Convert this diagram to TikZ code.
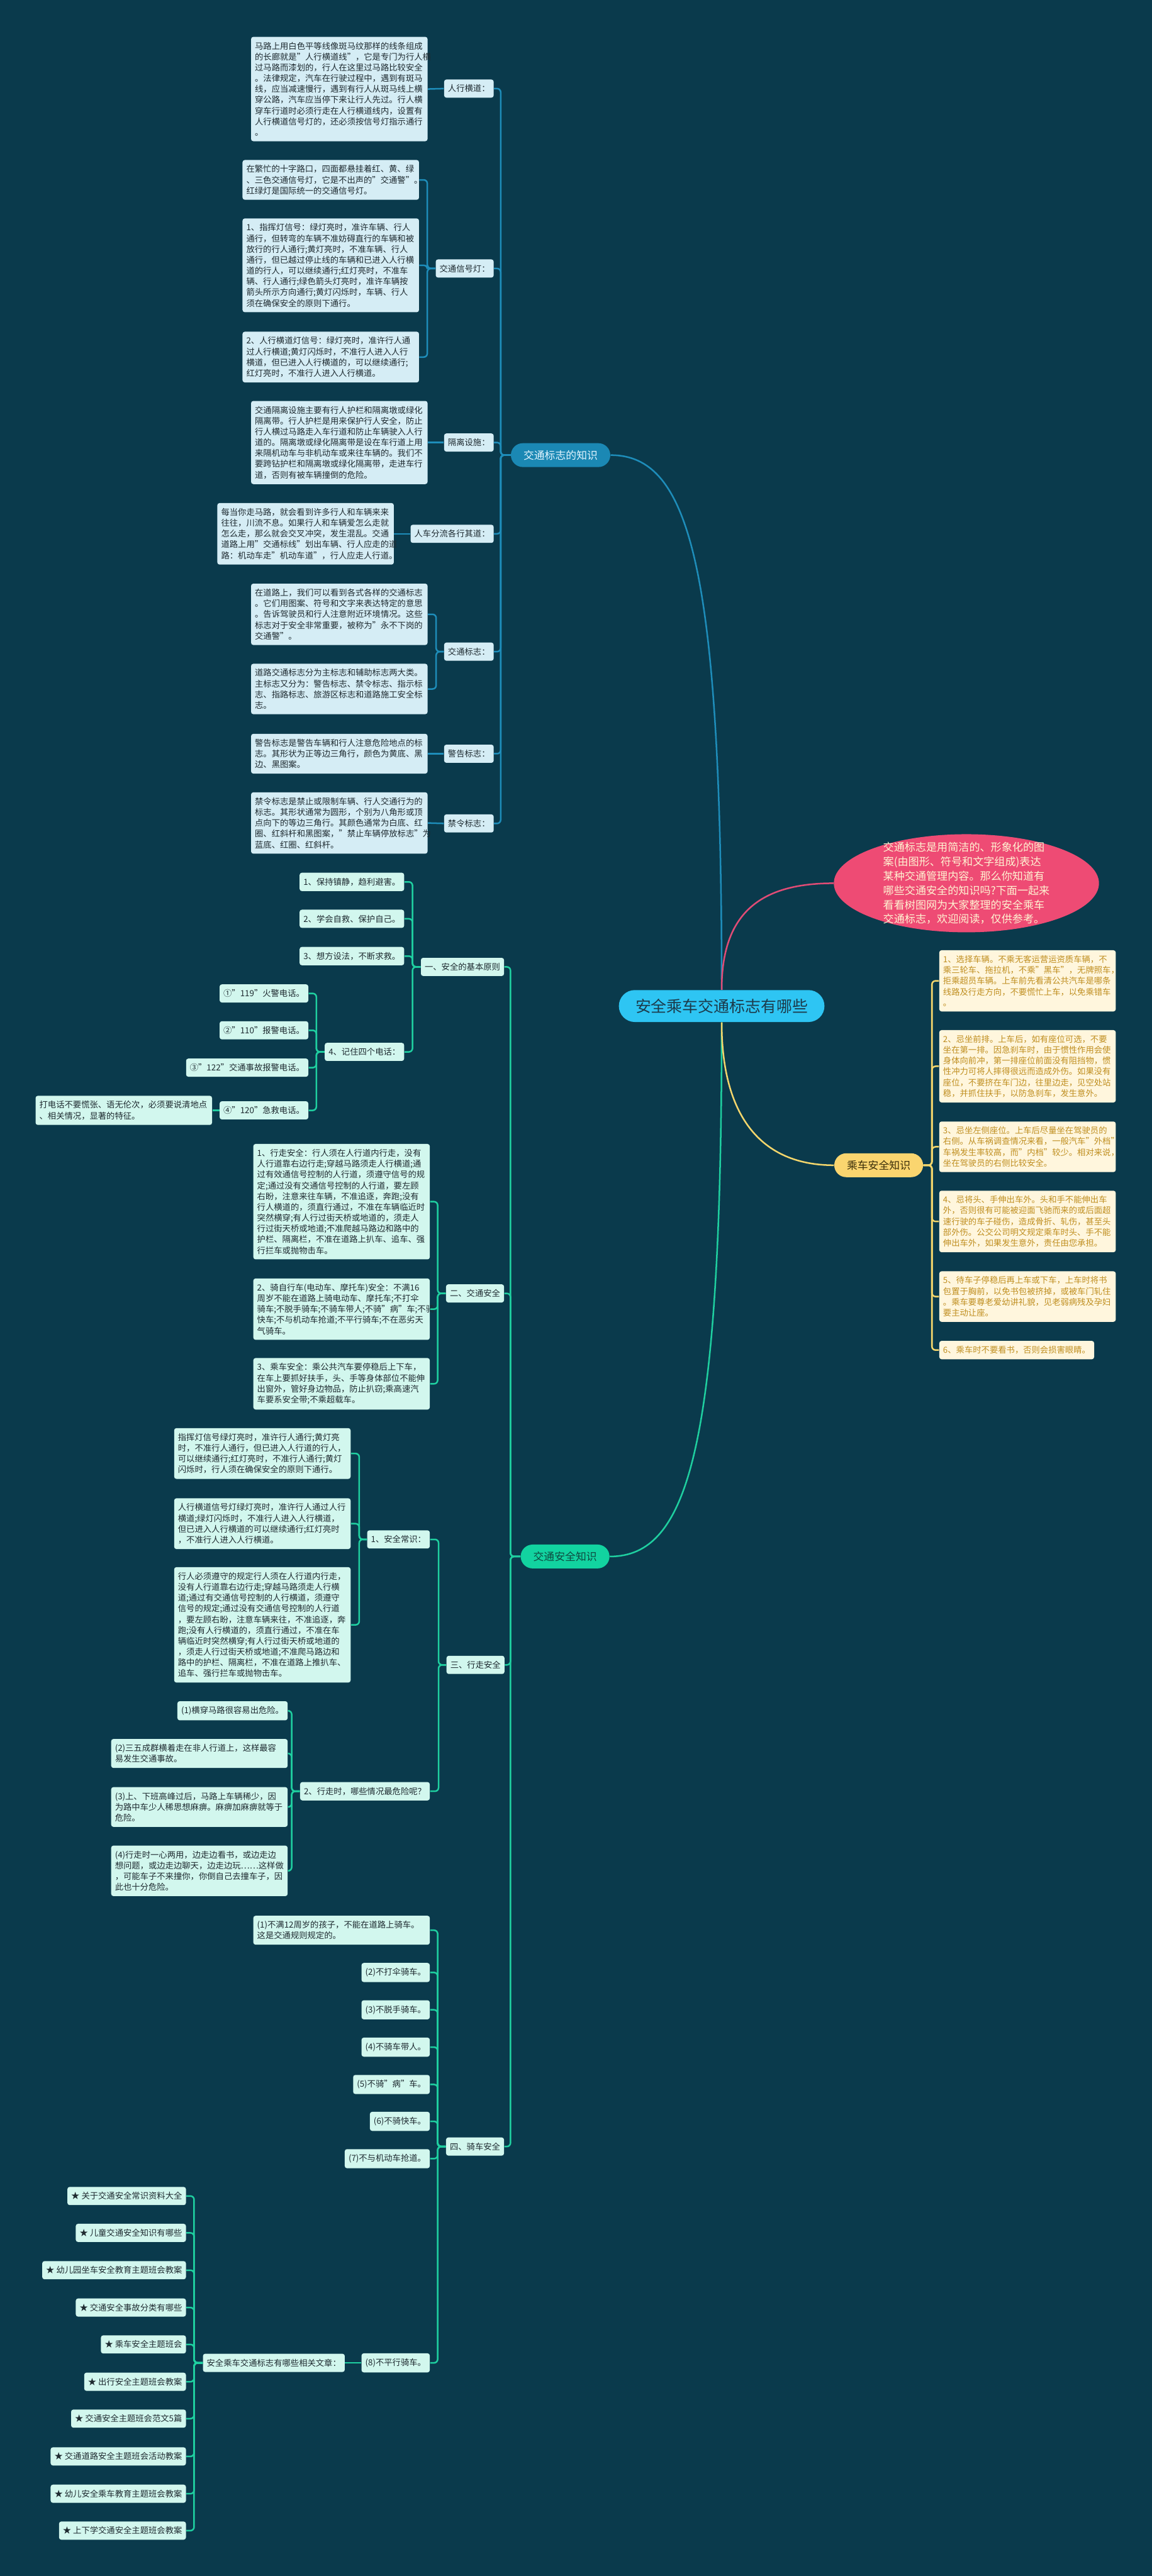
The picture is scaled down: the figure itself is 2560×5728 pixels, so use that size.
\documentclass[tikz,border=0pt]{standalone}
\usepackage{fontspec}
\setmainfont{Noto Sans CJK SC}
\usetikzlibrary{shapes.geometric}

\definecolor{bgdark}{HTML}{0A3A4C}
\definecolor{rootblue}{HTML}{2EC5F3}
\definecolor{rootink}{HTML}{1C3A4A}
\definecolor{signblue}{HTML}{1B88B4}
\definecolor{signtext}{HTML}{E2F5FF}
\definecolor{paleblue}{HTML}{D5EDF5}
\definecolor{blueline}{HTML}{1E8DBA}
\definecolor{safegreen}{HTML}{12D3A0}
\definecolor{safetext}{HTML}{0E4A40}
\definecolor{mint}{HTML}{D2F7EE}
\definecolor{greenline}{HTML}{1FCFA0}
\definecolor{rideyellow}{HTML}{FAD56F}
\definecolor{rideink}{HTML}{3A2E0A}
\definecolor{cream}{HTML}{FFF6DD}
\definecolor{goldtext}{HTML}{BF8E1F}
\definecolor{yellowline}{HTML}{F4D66C}
\definecolor{rose}{HTML}{EE4B74}
\definecolor{roseline}{HTML}{E14C76}
\definecolor{introtext}{HTML}{FFF4D2}
\definecolor{ink}{HTML}{1E2A30}

\newcommand{\leaffont}{\fontsize{5.3}{6.83}\selectfont}
\newcommand{\branchfont}{\fontsize{6.7}{8}\selectfont}
\newcommand{\rootfont}{\fontsize{9.9}{12}\selectfont}
\newcommand{\introfont}{\fontsize{6.8}{9.1}\selectfont}

\tikzset{
  leaf/.style={rounded corners=0.05cm, align=left, font=\leaffont, text=ink,
    inner xsep=0.085cm, inner ysep=0.115cm},
  wide/.style={text width=3.75cm},
  bleaf/.style={leaf, fill=paleblue, anchor=east},
  gleaf/.style={leaf, fill=mint, anchor=east},
  yleaf/.style={leaf, fill=cream, text=goldtext, anchor=west, wide},
  branch/.style={rounded corners=0.265cm, minimum height=0.53cm, inner xsep=0.28cm,
    inner ysep=0pt, font=\branchfont},
  lelbow/.style={to path={-- ++(-#1,0) |- (\tikztotarget)}},
  relbow/.style={to path={-- ++(#1,0) |- (\tikztotarget)}},
  bline/.style={draw=blueline, line width=0.035cm, rounded corners=0.08cm},
  gline/.style={draw=greenline, line width=0.035cm, rounded corners=0.08cm},
  yline/.style={draw=yellowline, line width=0.035cm, rounded corners=0.08cm},
}

\begin{document}
\begin{tikzpicture}[x=0.01cm, y=-0.01cm]
\useasboundingbox (0,0) rectangle (2560,5728);
\fill[bgdark] (0,0) rectangle (2560,5728);

% centre and main branches
\node[rounded corners=0.355cm, fill=rootblue, text=rootink, font=\rootfont, minimum height=0.71cm,
  inner xsep=0.37cm, inner ysep=0pt] (root) at (1604,2237) {安全乘车交通标志有哪些};

\node[ellipse, fill=rose, minimum width=5.89cm, minimum height=2.18cm, inner sep=0pt] (intro) at (2148,1964) {};
\node[font=\introfont, text=introtext, align=left] (introtxt) at (intro.center) {交通标志是用简洁的、形象化的图\\
案(由图形、符号和文字组成)表达\\
某种交通管理内容。那么你知道有\\
哪些交通安全的知识吗?下面一起来\\
看看树图网为大家整理的安全乘车\\
交通标志，欢迎阅读，仅供参考。};

\node[branch, fill=signblue, text=signtext] (signs) at (1246,1012) {交通标志的知识};
\node[branch, fill=safegreen, text=safetext] (safety) at (1256,3461) {交通安全知识};
\node[branch, fill=rideyellow, text=rideink] (ride) at (1953,2591) {乘车安全知识};

\draw[bline] (root.north) .. controls (1604,1250) and (1530,1012) .. (signs.east);
\draw[gline] (root.south) .. controls (1604,3220) and (1530,3461) .. (safety.east);
\draw[draw=roseline, line width=0.035cm] (root.north) .. controls (1604,2030) and (1690,1964) .. (intro.west);
\draw[yline] (root.south) .. controls (1604,2480) and (1690,2591) .. (ride.west);

% traffic signs
\node[bleaf] (b1) at (1098,197) {人行横道：};
\node[bleaf, wide] (b1t) at (951,198) {马路上用白色平等线像斑马纹那样的线条组成\\
的长廊就是"人行横道线"，它是专门为行人横\\
过马路而漆划的，行人在这里过马路比较安全\\
。法律规定，汽车在行驶过程中，遇到有斑马\\
线，应当减速慢行，遇到有行人从斑马线上横\\
穿公路，汽车应当停下来让行人先过。行人横\\
穿车行道时必须行走在人行横道线内，设置有\\
人行横道信号灯的，还必须按信号灯指示通行\\
。};
\node[bleaf] (b2) at (1098,597) {交通信号灯：};
\node[bleaf, wide] (b2a) at (932,400) {在繁忙的十字路口，四面都悬挂着红、黄、绿\\
、三色交通信号灯，它是不出声的"交通警"。\\
红绿灯是国际统一的交通信号灯。};
\node[bleaf, wide] (b2b) at (932,590) {1、指挥灯信号：绿灯亮时，准许车辆、行人\\
通行，但转弯的车辆不准妨碍直行的车辆和被\\
放行的行人通行;黄灯亮时，不准车辆、行人\\
通行，但已越过停止线的车辆和已进入人行横\\
道的行人，可以继续通行;红灯亮时，不准车\\
辆、行人通行;绿色箭头灯亮时，准许车辆按\\
箭头所示方向通行;黄灯闪烁时，车辆、行人\\
须在确保安全的原则下通行。};
\node[bleaf, wide] (b2c) at (932,794) {2、人行横道灯信号：绿灯亮时，准许行人通\\
过人行横道;黄灯闪烁时，不准行人进入人行\\
横道，但已进入人行横道的，可以继续通行;\\
红灯亮时，不准行人进入人行横道。};
\node[bleaf] (b3) at (1098,984) {隔离设施：};
\node[bleaf, wide] (b3t) at (951,984) {交通隔离设施主要有行人护栏和隔离墩或绿化\\
隔离带。行人护栏是用来保护行人安全，防止\\
行人横过马路走入车行道和防止车辆驶入人行\\
道的。隔离墩或绿化隔离带是设在车行道上用\\
来隔机动车与非机动车或来往车辆的。我们不\\
要跨钻护栏和隔离墩或绿化隔离带，走进车行\\
道，否则有被车辆撞倒的危险。};
\node[bleaf] (b4) at (1098,1187) {人车分流各行其道：};
\node[bleaf, wide] (b4t) at (876,1187) {每当你走马路，就会看到许多行人和车辆来来\\
往往，川流不息。如果行人和车辆爱怎么走就\\
怎么走，那么就会交叉冲突，发生混乱。交通\\
道路上用"交通标线"划出车辆、行人应走的道\\
路：机动车走"机动车道"，行人应走人行道。};
\node[bleaf] (b5) at (1098,1449) {交通标志：};
\node[bleaf, wide] (b5a) at (951,1366) {在道路上，我们可以看到各式各样的交通标志\\
。它们用图案、符号和文字来表达特定的意思\\
。告诉驾驶员和行人注意附近环境情况。这些\\
标志对于安全非常重要，被称为"永不下岗的\\
交通警"。};
\node[bleaf, wide] (b5b) at (951,1532) {道路交通标志分为主标志和辅助标志两大类。\\
主标志又分为：警告标志、禁令标志、指示标\\
志、指路标志、旅游区标志和道路施工安全标\\
志。};
\node[bleaf] (b6) at (1098,1676) {警告标志：};
\node[bleaf, wide] (b6t) at (951,1676) {警告标志是警告车辆和行人注意危险地点的标\\
志。其形状为正等边三角行，颜色为黄底、黑\\
边、黑图案。};
\node[bleaf] (b7) at (1098,1831) {禁令标志：};
\node[bleaf, wide] (b7t) at (951,1830) {禁令标志是禁止或限制车辆、行人交通行为的\\
标志。其形状通常为圆形，个别为八角形或顶\\
点向下的等边三角行。其颜色通常为白底、红\\
圈、红斜杆和黑图案，"禁止车辆停放标志"为\\
蓝底、红圈、红斜杆。};

\foreach \n in {b1,b2,b3,b4,b5,b6,b7} \draw[bline] (signs.west) to[lelbow=22] (\n.east);
\foreach \n in {b2a,b2b,b2c} \draw[bline] (b2.west) to[lelbow=18] (\n.east);
\foreach \n in {b5a,b5b} \draw[bline] (b5.west) to[lelbow=17] (\n.east);
\draw[bline] (b1.west) -- (b1t.east);
\draw[bline] (b3.west) -- (b3t.east);
\draw[bline] (b4.west) -- (b4t.east);
\draw[bline] (b6.west) -- (b6t.east);
\draw[bline] (b7.west) -- (b7t.east);

% riding safety
\node[yleaf] (y1) at (2087,2181) {1、选择车辆。不乘无客运营运资质车辆，不\\
乘三轮车、拖拉机，不乘"黑车"，无牌照车，\\
拒乘超员车辆。上车前先看清公共汽车是哪条\\
线路及行走方向，不要慌忙上车，以免乘错车\\
。};
\node[yleaf] (y2) at (2087,2371) {2、忌坐前排。上车后，如有座位可选，不要\\
坐在第一排。因急刹车时，由于惯性作用会使\\
身体向前冲，第一排座位前面没有阻挡物，惯\\
性冲力可将人摔得很远而造成外伤。如果没有\\
座位，不要挤在车门边，往里边走，见空处站\\
稳，并抓住扶手，以防急刹车，发生意外。};
\node[yleaf] (y3) at (2087,2550) {3、忌坐左侧座位。上车后尽量坐在驾驶员的\\
右侧。从车祸调查情况来看，一般汽车"外档"\\
车祸发生率较高，而"内档"较少。相对来说，\\
坐在驾驶员的右侧比较安全。};
\node[yleaf] (y4) at (2087,2716) {4、忌将头、手伸出车外。头和手不能伸出车\\
外，否则很有可能被迎面飞驰而来的或后面超\\
速行驶的车子碰伤，造成骨折、轧伤，甚至头\\
部外伤。公交公司明文规定乘车时头、手不能\\
伸出车外，如果发生意外，责任由您承担。};
\node[yleaf] (y5) at (2087,2883) {5、待车子停稳后再上车或下车，上车时将书\\
包置于胸前，以免书包被挤掉，或被车门轧住\\
。乘车要尊老爱幼讲礼貌，见老弱病残及孕妇\\
要主动让座。};
\node[yleaf, text width=] (y6) at (2087,3002) {6、乘车时不要看书，否则会损害眼睛。};

\foreach \n in {y1,y2,y3,y4,y5,y6} \draw[yline] (ride.east) to[relbow=19] (\n.west);

% traffic safety
\node[gleaf] (g1) at (1121,2150) {一、安全的基本原则};
\node[gleaf] (g1a) at (899,1961) {1、保持镇静，趋利避害。};
\node[gleaf] (g1b) at (899,2043) {2、学会自救、保护自己。};
\node[gleaf] (g1c) at (899,2126) {3、想方设法，不断求救。};
\node[gleaf] (g1d) at (899,2339) {4、记住四个电话：};
\node[gleaf] (g1d1) at (686,2209) {①"119"火警电话。};
\node[gleaf] (g1d2) at (686,2291) {②"110"报警电话。};
\node[gleaf] (g1d3) at (686,2374) {③"122"交通事故报警电话。};
\node[gleaf] (g1d4) at (686,2469) {④"120"急救电话。};
\node[gleaf, wide] (g1d4t) at (472,2469) {打电话不要慌张、语无伦次，必须要说清地点\\
、相关情况，显著的特征。};

\node[gleaf] (g2) at (1121,2876) {二、交通安全};
\node[gleaf, wide] (g2a) at (956,2672) {1、行走安全：行人须在人行道内行走，没有\\
人行道靠右边行走;穿越马路须走人行横道;通\\
过有效通信号控制的人行道，须遵守信号的规\\
定;通过没有交通信号控制的人行道，要左顾\\
右盼，注意来往车辆，不准追逐，奔跑;没有\\
行人横道的，须直行通过，不准在车辆临近时\\
突然横穿;有人行过街天桥或地道的，须走人\\
行过街天桥或地道;不准爬越马路边和路中的\\
护栏、隔离栏，不准在道路上扒车、追车、强\\
行拦车或抛物击车。};
\node[gleaf, wide] (g2b) at (956,2911) {2、骑自行车(电动车、摩托车)安全：不满16\\
周岁不能在道路上骑电动车、摩托车;不打伞\\
骑车;不脱手骑车;不骑车带人;不骑"病"车;不骑\\
快车;不与机动车抢道;不平行骑车;不在恶劣天\\
气骑车。};
\node[gleaf, wide] (g2c) at (956,3077) {3、乘车安全：乘公共汽车要停稳后上下车，\\
在车上要抓好扶手，头、手等身体部位不能伸\\
出窗外，管好身边物品，防止扒窃;乘高速汽\\
车要系安全带;不乘超载车。};

\node[gleaf] (g3) at (1122,3702) {三、行走安全};
\node[gleaf] (g3a) at (956,3423) {1、安全常识：};
\node[gleaf, wide] (g3a1) at (780,3232) {指挥灯信号绿灯亮时，准许行人通行;黄灯亮\\
时，不准行人通行，但已进入人行道的行人，\\
可以继续通行;红灯亮时，不准行人通行;黄灯\\
闪烁时，行人须在确保安全的原则下通行。};
\node[gleaf, wide] (g3a2) at (780,3388) {人行横道信号灯绿灯亮时，准许行人通过人行\\
横道;绿灯闪烁时，不准行人进入人行横道，\\
但已进入人行横道的可以继续通行;红灯亮时\\
，不准行人进入人行横道。};
\node[gleaf, wide] (g3a3) at (780,3613) {行人必须遵守的规定行人须在人行道内行走，\\
没有人行道靠右边行走;穿越马路须走人行横\\
道;通过有交通信号控制的人行横道，须遵守\\
信号的规定;通过没有交通信号控制的人行道\\
，要左顾右盼，注意车辆来往，不准追逐，奔\\
跑;没有人行横道的，须直行通过，不准在车\\
辆临近时突然横穿;有人行过街天桥或地道的\\
，须走人行过街天桥或地道;不准爬马路边和\\
路中的护栏、隔离栏，不准在道路上推扒车、\\
追车、强行拦车或抛物击车。};
\node[gleaf] (g3b) at (956,3983) {2、行走时，哪些情况最危险呢？};
\node[gleaf] (g3b1) at (640,3804) {(1)横穿马路很容易出危险。};
\node[gleaf, wide] (g3b2) at (640,3899) {(2)三五成群横着走在非人行道上，这样最容\\
易发生交通事故。};
\node[gleaf, wide] (g3b3) at (640,4018) {(3)上、下班高峰过后，马路上车辆稀少，因\\
为路中车少人稀思想麻痹。麻痹加麻痹就等于\\
危险。};
\node[gleaf, wide] (g3b4) at (640,4160) {(4)行走时一心两用，边走边看书，或边走边\\
想问题，或边走边聊天，边走边玩……这样做\\
，可能车子不来撞你，你倒自己去撞车子，因\\
此也十分危险。};

\node[gleaf] (g4) at (1121,4773) {四、骑车安全};
\node[gleaf, wide] (g4a) at (956,4292) {(1)不满12周岁的孩子，不能在道路上骑车。\\
这是交通规则规定的。};
\node[gleaf] (g4b) at (956,4386) {(2)不打伞骑车。};
\node[gleaf] (g4c) at (956,4469) {(3)不脱手骑车。};
\node[gleaf] (g4d) at (956,4552) {(4)不骑车带人。};
\node[gleaf] (g4e) at (956,4635) {(5)不骑"病"车。};
\node[gleaf] (g4f) at (956,4717) {(6)不骑快车。};
\node[gleaf] (g4g) at (956,4800) {(7)不与机动车抢道。};
\node[gleaf] (g4h) at (956,5254) {(8)不平行骑车。};
\node[gleaf] (rel) at (767,5254) {安全乘车交通标志有哪些相关文章：};
\node[gleaf] (r1) at (414,4883) {★ 关于交通安全常识资料大全};
\node[gleaf] (r2) at (414,4965) {★ 儿童交通安全知识有哪些};
\node[gleaf] (r3) at (414,5048) {★ 幼儿园坐车安全教育主题班会教案};
\node[gleaf] (r4) at (414,5131) {★ 交通安全事故分类有哪些};
\node[gleaf] (r5) at (414,5213) {★ 乘车安全主题班会};
\node[gleaf] (r6) at (414,5296) {★ 出行安全主题班会教案};
\node[gleaf] (r7) at (414,5378) {★ 交通安全主题班会范文5篇};
\node[gleaf] (r8) at (414,5462) {★ 交通道路安全主题班会活动教案};
\node[gleaf] (r9) at (414,5545) {★ 幼儿安全乘车教育主题班会教案};
\node[gleaf] (r10) at (414,5627) {★ 上下学交通安全主题班会教案};

\foreach \n in {g1,g2,g3,g4} \draw[gline] (safety.west) to[lelbow=22] (\n.east);
\foreach \n in {g1a,g1b,g1c,g1d} \draw[gline] (g1.west) to[lelbow=18] (\n.east);
\foreach \n in {g1d1,g1d2,g1d3,g1d4} \draw[gline] (g1d.west) to[lelbow=18] (\n.east);
\draw[gline] (g1d4.west) -- (g1d4t.east);
\foreach \n in {g2a,g2b,g2c} \draw[gline] (g2.west) to[lelbow=18] (\n.east);
\foreach \n in {g3a,g3b} \draw[gline] (g3.west) to[lelbow=17] (\n.east);
\foreach \n in {g3a1,g3a2,g3a3} \draw[gline] (g3a.west) to[lelbow=17] (\n.east);
\foreach \n in {g3b1,g3b2,g3b3,g3b4} \draw[gline] (g3b.west) to[lelbow=18] (\n.east);
\foreach \n in {g4a,g4b,g4c,g4d,g4e,g4f,g4g,g4h} \draw[gline] (g4.west) to[lelbow=18] (\n.east);
\draw[gline] (g4h.west) -- (rel.east);
\foreach \n in {r1,r2,r3,r4,r5,r6,r7,r8,r9,r10} \draw[gline] (rel.west) to[lelbow=19] (\n.east);
\end{tikzpicture}
\end{document}
